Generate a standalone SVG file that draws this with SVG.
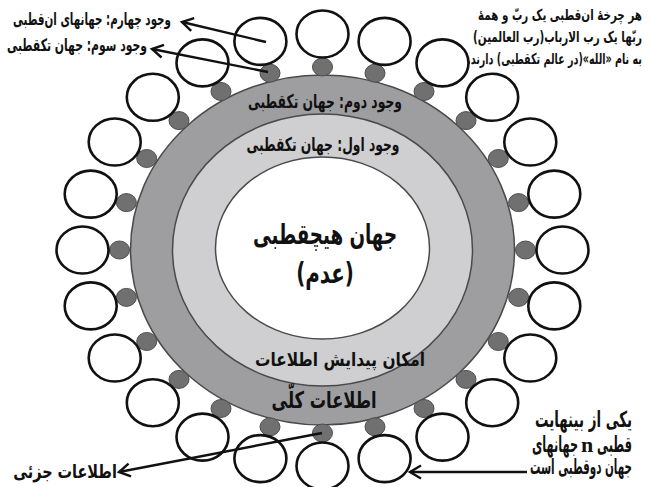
<svg xmlns="http://www.w3.org/2000/svg" width="651" height="487" viewBox="0 0 651 487">
<defs>
<style>
.bg{fill:#ffffff}
.ringD{fill:#9e9ea0;stroke:#4a4a4a;stroke-width:1.5}
.ringL{fill:#cfcfd1;stroke:#4a4a4a;stroke-width:1.5}
.core{fill:#ffffff;stroke:#4a4a4a;stroke-width:1.5}
.big{fill:#ffffff;stroke:#111111;stroke-width:2.6}
.dot{fill:#707070;stroke:#4e4e4e;stroke-width:1}
.arr{stroke:#111111;stroke-width:2.4;fill:none;marker-end:url(#ah)}
text{font-family:"DejaVu Sans",sans-serif;font-weight:bold;fill:#111111;text-anchor:middle;direction:rtl}
.lat{font-family:"Liberation Serif",serif;direction:ltr}
</style>
<marker id="ah" markerUnits="userSpaceOnUse" markerWidth="20" markerHeight="20" viewBox="-14 -10 20 20" refX="0" refY="0" orient="auto">
<path d="M-11,-6.5 L0,0 L-11,6.5" fill="none" stroke="#111111" stroke-width="2.4" stroke-linejoin="miter"/>
</marker>
<ellipse id="bc" cx="0" cy="0" rx="26" ry="23.5"/>
<ellipse id="dc" cx="0" cy="0" rx="10" ry="9"/>
</defs>
<rect class="bg" x="0" y="0" width="651" height="487"/>

<g id="ring-outer"><ellipse class="ringD" cx="322.5" cy="250" rx="192" ry="175"/></g>
<g id="ring-middle"><ellipse class="ringL" cx="322.5" cy="250" rx="150" ry="136"/></g>
<g id="ring-core"><ellipse class="core" cx="322.5" cy="248" rx="107" ry="91"/></g>

<g id="dots">
<g id="d0"><use href="#dc" class="dot" x="322.5" y="67"/></g>
<g id="d1"><use href="#dc" class="dot" x="375" y="73.2"/></g>
<g id="d2"><use href="#dc" class="dot" x="424" y="91.5"/></g>
<g id="d3"><use href="#dc" class="dot" x="466" y="120.6"/></g>
<g id="d4"><use href="#dc" class="dot" x="498.3" y="158.5"/></g>
<g id="d5"><use href="#dc" class="dot" x="518.6" y="202.6"/></g>
<g id="d6"><use href="#dc" class="dot" x="525.5" y="250"/></g>
<g id="d7"><use href="#dc" class="dot" x="518.6" y="297.4"/></g>
<g id="d8"><use href="#dc" class="dot" x="498.3" y="341.5"/></g>
<g id="d9"><use href="#dc" class="dot" x="466" y="379.4"/></g>
<g id="d10"><use href="#dc" class="dot" x="424" y="408.5"/></g>
<g id="d11"><use href="#dc" class="dot" x="375" y="426.8"/></g>
<g id="d12"><use href="#dc" class="dot" x="322.5" y="433"/></g>
<g id="d13"><use href="#dc" class="dot" x="270" y="426.8"/></g>
<g id="d14"><use href="#dc" class="dot" x="221" y="408.5"/></g>
<g id="d15"><use href="#dc" class="dot" x="179" y="379.4"/></g>
<g id="d16"><use href="#dc" class="dot" x="146.7" y="341.5"/></g>
<g id="d17"><use href="#dc" class="dot" x="126.4" y="297.4"/></g>
<g id="d18"><use href="#dc" class="dot" x="119.5" y="250"/></g>
<g id="d19"><use href="#dc" class="dot" x="126.4" y="202.6"/></g>
<g id="d20"><use href="#dc" class="dot" x="146.7" y="158.5"/></g>
<g id="d21"><use href="#dc" class="dot" x="179" y="120.6"/></g>
<g id="d22"><use href="#dc" class="dot" x="221" y="91.5"/></g>
<g id="d23"><use href="#dc" class="dot" x="270" y="73.2"/></g>
</g>

<g id="worlds">
<g id="w0"><use href="#bc" class="big" x="322.5" y="34"/></g>
<g id="w1"><use href="#bc" class="big" x="384.6" y="41.4"/></g>
<g id="w2"><use href="#bc" class="big" x="442.5" y="62.9"/></g>
<g id="w3"><use href="#bc" class="big" x="492.2" y="97.3"/></g>
<g id="w4"><use href="#bc" class="big" x="530.3" y="142"/></g>
<g id="w5"><use href="#bc" class="big" x="554.3" y="194.1"/></g>
<g id="w6"><use href="#bc" class="big" x="562.5" y="250"/></g>
<g id="w7"><use href="#bc" class="big" x="554.3" y="305.9"/></g>
<g id="w8"><use href="#bc" class="big" x="530.3" y="358"/></g>
<g id="w9"><use href="#bc" class="big" x="492.2" y="402.7"/></g>
<g id="w10"><use href="#bc" class="big" x="442.5" y="437.1"/></g>
<g id="w11"><use href="#bc" class="big" x="384.6" y="458.6"/></g>
<g id="w12"><use href="#bc" class="big" x="322.5" y="466"/></g>
<g id="w13"><use href="#bc" class="big" x="260.4" y="458.6"/></g>
<g id="w14"><use href="#bc" class="big" x="202.5" y="437.1"/></g>
<g id="w15"><use href="#bc" class="big" x="152.8" y="402.7"/></g>
<g id="w16"><use href="#bc" class="big" x="114.7" y="358"/></g>
<g id="w17"><use href="#bc" class="big" x="90.7" y="305.9"/></g>
<g id="w18"><use href="#bc" class="big" x="82.5" y="250"/></g>
<g id="w19"><use href="#bc" class="big" x="90.7" y="194.1"/></g>
<g id="w20"><use href="#bc" class="big" x="114.7" y="142"/></g>
<g id="w21"><use href="#bc" class="big" x="152.8" y="97.3"/></g>
<g id="w22"><use href="#bc" class="big" x="202.5" y="62.9"/></g>
<g id="w23"><use href="#bc" class="big" x="260.4" y="41.4"/></g>
</g>

<g id="connectors">
<line class="arr" x1="266" y1="42" x2="182" y2="22"/>
<line class="arr" x1="268" y1="72" x2="152" y2="49"/>
<line class="arr" x1="322" y1="433" x2="119" y2="472"/>
<line class="arr" x1="527" y1="472" x2="410" y2="472"/>
</g>

<g id="labels">
<text transform="translate(92 25) scale(0.605 1)" font-size="17" textLength="261" lengthAdjust="spacingAndGlyphs">وجود چهارم: جهانهای ان‌قطبی</text>
<text transform="translate(77 51) scale(0.667 1)" font-size="17" textLength="210" lengthAdjust="spacingAndGlyphs">وجود سوم: جهان تکقطبی</text>
<text transform="translate(560 20) scale(0.686 1)" font-size="15" textLength="239" lengthAdjust="spacingAndGlyphs">هر چرخهٔ ان‌قطبی یک ربّ و همهٔ</text>
<text transform="translate(557.5 42) scale(0.695 1)" font-size="15" textLength="243" lengthAdjust="spacingAndGlyphs">ربّها یک رب الارباب(رب العالمین)</text>
<text transform="translate(554.5 64) scale(0.65 1)" font-size="15" textLength="269" lengthAdjust="spacingAndGlyphs">به نام «الله»(در عالم تکقطبی) دارند.</text>
<text transform="translate(325 108) scale(0.655 1)" font-size="19" textLength="235" lengthAdjust="spacingAndGlyphs">وجود دوم: جهان تکقطبی</text>
<text transform="translate(323 151) scale(0.651 1)" font-size="19" textLength="235" lengthAdjust="spacingAndGlyphs">وجود اول: جهان تکقطبی</text>
<text transform="translate(325 244) scale(0.652 1)" font-size="28" textLength="221" lengthAdjust="spacingAndGlyphs">جهان هیچقطبی</text>
<text transform="translate(325 283) scale(0.75 1)" font-size="28" textLength="77" lengthAdjust="spacingAndGlyphs">(عدم)</text>
<text transform="translate(340 366) scale(0.817 1)" font-size="19" textLength="208" lengthAdjust="spacingAndGlyphs">امکان پیدایش اطلاعات</text>
<text transform="translate(324 408) scale(0.71 1)" font-size="23" textLength="148" lengthAdjust="spacingAndGlyphs">اطلاعات کلّی</text>
<text transform="translate(65 478) scale(0.85 1)" font-size="19" textLength="122" lengthAdjust="spacingAndGlyphs">اطلاعات جزئی</text>
<text transform="translate(583.5 427) scale(0.6 1)" font-size="22" textLength="161.7" lengthAdjust="spacingAndGlyphs">یکی از بینهایت</text>
<text transform="translate(555 452) scale(0.5 1)" font-size="22" textLength="92" lengthAdjust="spacingAndGlyphs">جهانهای</text>
<text class="lat" x="587" y="452" font-size="22">n</text>
<text transform="translate(614.5 452) scale(0.67 1)" font-size="22" textLength="52" lengthAdjust="spacingAndGlyphs">قطبی</text>
<text transform="translate(581 474) scale(0.5 1)" font-size="21" textLength="204" lengthAdjust="spacingAndGlyphs">جهان دوقطبی است</text>
</g>
</svg>
